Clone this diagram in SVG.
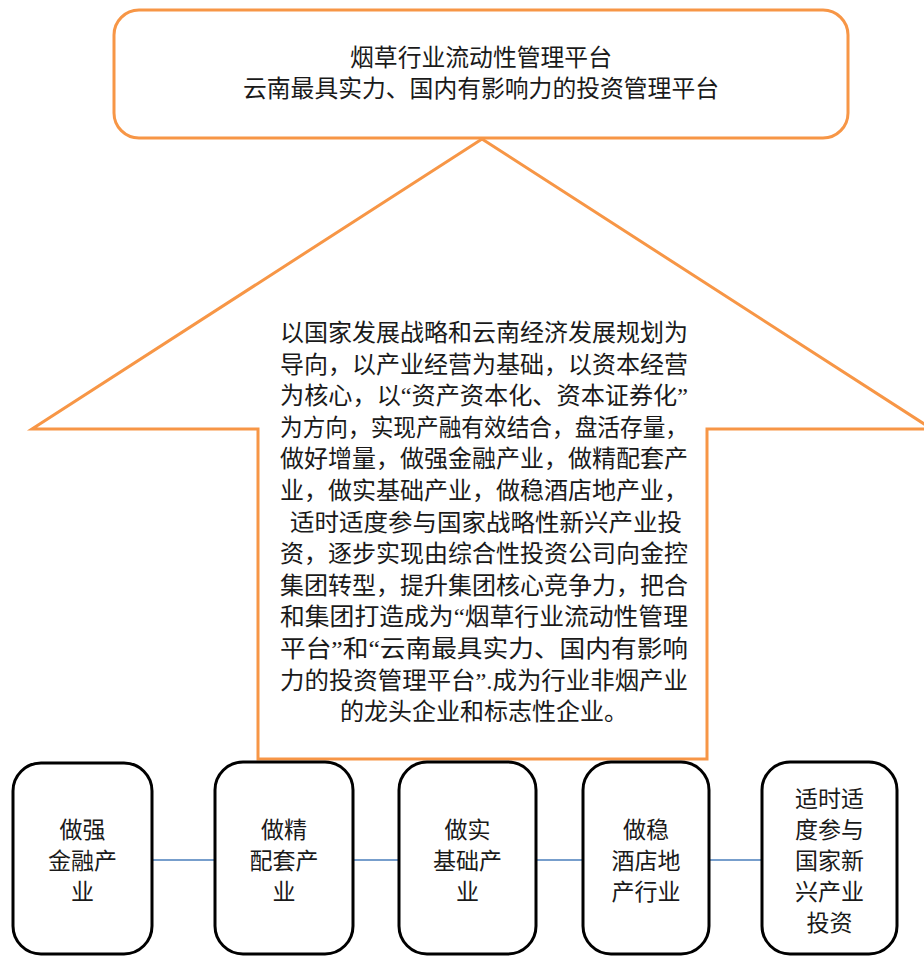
<svg xmlns="http://www.w3.org/2000/svg" width="924" height="956" viewBox="0 0 924 956">
<style>
.orange{fill:#ffffff;stroke:#F79646;stroke-width:3;stroke-linejoin:miter}
.box{fill:#ffffff;stroke:#000000;stroke-width:3}
.conn{stroke:#4A7EBB;stroke-width:1.3;fill:none}
text{font-family:"Liberation Serif","Noto Sans CJK SC",serif;fill:#1a1a1a;text-anchor:middle}
.t24{font-size:24px}
.t23{font-size:23px}
</style>
<rect width="924" height="956" fill="#ffffff"/>
<g id="top">
<rect class="orange" x="114" y="10" width="734" height="128" rx="25" ry="25"/>
<text class="t24" x="481" y="66" textLength="262" lengthAdjust="spacingAndGlyphs">烟草行业流动性管理平台</text>
<text class="t24" x="481" y="97" textLength="476" lengthAdjust="spacingAndGlyphs">云南最具实力、国内有影响力的投资管理平台</text>
</g>
<g id="arrow">
<polygon class="orange" points="482,139 932,429 707,429 707,759 258,759 258,429 32,429"/>
<g class="t24">
<text x="484" y="341" textLength="408" lengthAdjust="spacingAndGlyphs">以国家发展战略和云南经济发展规划为</text>
<text x="484" y="372.6" textLength="408" lengthAdjust="spacingAndGlyphs">导向，以产业经营为基础，以资本经营</text>
<text x="484" y="404.2" textLength="408" lengthAdjust="spacingAndGlyphs">为核心，以“资产资本化、资本证券化”</text>
<text x="484" y="435.8" textLength="408" lengthAdjust="spacingAndGlyphs">为方向，实现产融有效结合，盘活存量，</text>
<text x="484" y="467.4" textLength="408" lengthAdjust="spacingAndGlyphs">做好增量，做强金融产业，做精配套产</text>
<text x="484" y="499" textLength="408" lengthAdjust="spacingAndGlyphs">业，做实基础产业，做稳酒店地产业，</text>
<text x="486" y="530.6" textLength="392" lengthAdjust="spacingAndGlyphs">适时适度参与国家战略性新兴产业投</text>
<text x="484" y="562.2" textLength="408" lengthAdjust="spacingAndGlyphs">资，逐步实现由综合性投资公司向金控</text>
<text x="484" y="593.8" textLength="408" lengthAdjust="spacingAndGlyphs">集团转型，提升集团核心竞争力，把合</text>
<text x="484" y="625.4" textLength="408" lengthAdjust="spacingAndGlyphs">和集团打造成为“烟草行业流动性管理</text>
<text x="484" y="657" textLength="408" lengthAdjust="spacingAndGlyphs">平台”和“云南最具实力、国内有影响</text>
<text x="484" y="688.6" textLength="408" lengthAdjust="spacingAndGlyphs">力的投资管理平台”.成为行业非烟产业</text>
<text x="484" y="720.2">的龙头企业和标志性企业。</text>
</g>
</g>
<g id="connectors">
<line class="conn" x1="152" y1="860" x2="215" y2="860"/>
<line class="conn" x1="353" y1="860" x2="399" y2="860"/>
<line class="conn" x1="536" y1="860" x2="583" y2="860"/>
<line class="conn" x1="709" y1="860" x2="762" y2="860"/>
</g>
<g id="n1">
<rect class="box" x="13" y="763" width="139" height="191" rx="28" ry="28"/>
<text class="t23" x="82.5" y="838">做强</text>
<text class="t23" x="82.5" y="869">金融产</text>
<text class="t23" x="82.5" y="900">业</text>
</g>
<g id="n2">
<rect class="box" x="215" y="762" width="138" height="192" rx="28" ry="28"/>
<text class="t23" x="284" y="838">做精</text>
<text class="t23" x="284" y="869">配套产</text>
<text class="t23" x="284" y="900">业</text>
</g>
<g id="n3">
<rect class="box" x="399" y="762" width="137" height="192" rx="28" ry="28"/>
<text class="t23" x="467.5" y="838">做实</text>
<text class="t23" x="467.5" y="869">基础产</text>
<text class="t23" x="467.5" y="900">业</text>
</g>
<g id="n4">
<rect class="box" x="583" y="762" width="126" height="192" rx="28" ry="28"/>
<text class="t23" x="646" y="838">做稳</text>
<text class="t23" x="646" y="869">酒店地</text>
<text class="t23" x="646" y="900">产行业</text>
</g>
<g id="n5">
<rect class="box" x="762" y="762" width="135" height="192" rx="28" ry="28"/>
<text class="t23" x="829.5" y="807">适时适</text>
<text class="t23" x="829.5" y="838">度参与</text>
<text class="t23" x="829.5" y="869">国家新</text>
<text class="t23" x="829.5" y="900">兴产业</text>
<text class="t23" x="829.5" y="931">投资</text>
</g>
</svg>
